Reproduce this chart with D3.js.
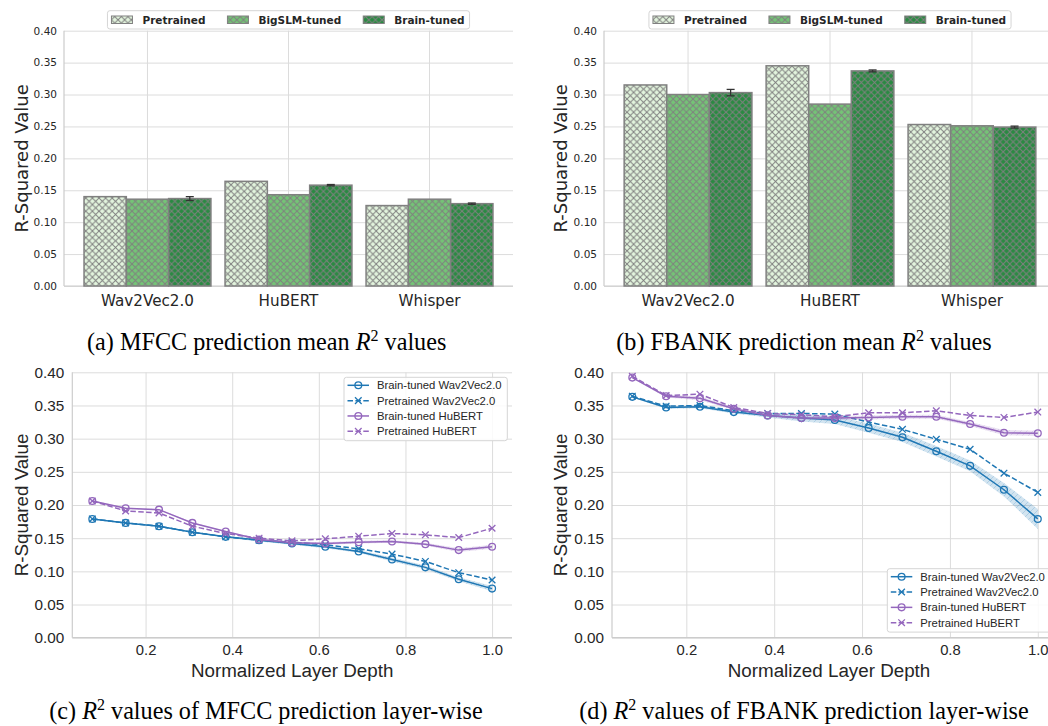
<!DOCTYPE html>
<html>
<head>
<meta charset="utf-8">
<script src="https://cdn.jsdelivr.net/npm/d3@7"></script>
<style>
body { margin: 0; background: #fff; overflow: hidden; }
svg { display: block; }
</style>
</head>
<body>
<svg id="fig" width="1048" height="726"></svg>
<script>
// ---- bar charts (a) and (b) ----
var models = ["Wav2Vec2.0", "HuBERT", "Whisper"];
var variants = ["Pretrained", "BigSLM-tuned", "Brain-tuned"];

var mfccPretrained = [0.140, 0.164, 0.126];
var mfccBigSLM     = [0.136, 0.143, 0.136];
var mfccBrain      = [0.137, 0.158, 0.129];
var mfccBrainErr   = [0.003, 0.001, 0.001];

var fbankPretrained = [0.315, 0.345, 0.253];
var fbankBigSLM     = [0.300, 0.285, 0.251];
var fbankBrain      = [0.303, 0.337, 0.249];
var fbankBrainErr   = [0.005, 0.0015, 0.0015];

var yTicks = [0.00, 0.05, 0.10, 0.15, 0.20, 0.25, 0.30, 0.35, 0.40];
var xTicks = [0.2, 0.4, 0.6, 0.8, 1.0];

// ---- layer-wise line charts (c) and (d) ----
var seriesNames = ["Brain-tuned Wav2Vec2.0", "Pretrained Wav2Vec2.0", "Brain-tuned HuBERT", "Pretrained HuBERT"];
var layerDepth = [0.077, 0.154, 0.231, 0.308, 0.385, 0.462, 0.538, 0.615, 0.692, 0.769, 0.846, 0.923, 1.0];

var mfccBrainW2V    = [0.179, 0.173, 0.168, 0.159, 0.152, 0.147, 0.142, 0.137, 0.130, 0.118, 0.106, 0.088, 0.074];
var mfccBrainW2VCi  = [0.001, 0.001, 0.001, 0.001, 0.001, 0.002, 0.002, 0.002, 0.002, 0.003, 0.003, 0.003, 0.004];
var mfccPreW2V      = [0.179, 0.173, 0.168, 0.159, 0.152, 0.147, 0.144, 0.140, 0.134, 0.126, 0.115, 0.098, 0.087];
var mfccBrainHub    = [0.206, 0.195, 0.193, 0.173, 0.160, 0.148, 0.143, 0.142, 0.144, 0.145, 0.141, 0.132, 0.137];
var mfccBrainHubCi  = [0.001, 0.001, 0.001, 0.001, 0.001, 0.001, 0.002, 0.002, 0.002, 0.002, 0.002, 0.003, 0.003];
var mfccPreHub      = [0.206, 0.191, 0.188, 0.168, 0.157, 0.150, 0.146, 0.149, 0.153, 0.157, 0.155, 0.151, 0.165];

var fbankBrainW2V   = [0.363, 0.347, 0.348, 0.340, 0.335, 0.331, 0.328, 0.316, 0.302, 0.281, 0.259, 0.223, 0.179];
var fbankBrainW2VCi = [0.001, 0.002, 0.002, 0.002, 0.003, 0.005, 0.006, 0.007, 0.007, 0.008, 0.008, 0.010, 0.015];
var fbankPreW2V     = [0.364, 0.349, 0.350, 0.342, 0.338, 0.338, 0.337, 0.325, 0.314, 0.299, 0.284, 0.248, 0.219];
var fbankBrainHub   = [0.392, 0.364, 0.361, 0.345, 0.335, 0.331, 0.331, 0.332, 0.333, 0.333, 0.322, 0.309, 0.308];
var fbankBrainHubCi = [0.001, 0.002, 0.003, 0.002, 0.002, 0.003, 0.003, 0.003, 0.003, 0.003, 0.003, 0.004, 0.004];
var fbankPreHub     = [0.394, 0.365, 0.367, 0.347, 0.338, 0.336, 0.333, 0.339, 0.339, 0.342, 0.335, 0.332, 0.340];

var barColors = ["#e2f4dd", "#74c476", "#2a8a42"];
var blue = "#1f77b4", purple = "#9467bd";
var inkColor = "#262626";
var gridColor = "#dcdcdc";

var svg = d3.select("#fig");
var defs = svg.append("defs");

// cross hatch like matplotlib 'xx'
var hs = 6.6;
defs.append("pattern").attr("id", "xhatch")
    .attr("patternUnits", "userSpaceOnUse").attr("width", hs).attr("height", hs)
  .append("path")
    .attr("d", "M-1,-1L" + (hs + 1) + "," + (hs + 1) + "M" + (hs + 1) + ",-1L-1," + (hs + 1))
    .attr("stroke", "#808080").attr("stroke-width", 1).attr("fill", "none");

// faint diagonal hatch inside the error bands
[["bandBlue", blue], ["bandPurple", purple]].forEach(function(p) {
    defs.append("pattern").attr("id", p[0])
        .attr("patternUnits", "userSpaceOnUse").attr("width", 6).attr("height", 6)
      .append("path")
        .attr("d", "M-1,7L7,-1")
        .attr("stroke", p[1]).attr("stroke-opacity", 0.25).attr("stroke-width", 0.8);
});

function styleAxis(sel, font, size) {
    sel.select(".domain").remove();
    sel.selectAll(".tick line").attr("stroke", gridColor).attr("stroke-width", 1);
    sel.selectAll(".tick text")
        .attr("fill", inkColor)
        .style("font-family", font)
        .style("font-size", size + "px");
}

function barPanel(cfg) {
    var g = svg.append("g");
    var font = "'DejaVu Sans', sans-serif";
    var x = d3.scaleBand().domain(models).range([cfg.left, cfg.right])
        .paddingInner(0.1).paddingOuter(0.142);
    var xs = d3.scaleBand().domain(variants).range([0, x.bandwidth()]);
    var y = d3.scaleLinear().domain([0, 0.4]).range([cfg.bottom, cfg.top]);
    var w = cfg.right - cfg.left, h = cfg.bottom - cfg.top;

    g.append("g").attr("transform", "translate(" + cfg.left + ",0)")
        .call(d3.axisLeft(y).tickValues(yTicks).tickFormat(d3.format(".2f"))
            .tickSize(-w).tickPadding(7))
        .call(styleAxis, font, 10.5);

    g.append("g").attr("transform", "translate(0," + cfg.bottom + ")")
        .call(d3.axisBottom(x).tickSize(-h).tickPadding(9))
        .call(styleAxis, font, 15.2);

    // spines
    g.append("line").attr("x1", cfg.left).attr("x2", cfg.left).attr("y1", cfg.top).attr("y2", cfg.bottom)
        .attr("stroke", "#cccccc").attr("stroke-width", 1.2);
    g.append("line").attr("x1", cfg.left).attr("x2", cfg.right).attr("y1", cfg.bottom).attr("y2", cfg.bottom)
        .attr("stroke", "#cccccc").attr("stroke-width", 1.2);

    var rows = [];
    models.forEach(function(m, i) {
        variants.forEach(function(v, j) {
            rows.push({ model: m, variant: v, j: j, value: cfg.series[j][i], err: j === 2 ? cfg.err[i] : 0 });
        });
    });

    var bars = g.selectAll(".bar").data(rows).enter().append("g");
    bars.append("rect")
        .attr("x", function(d) { return x(d.model) + xs(d.variant); })
        .attr("y", function(d) { return y(d.value); })
        .attr("width", xs.bandwidth())
        .attr("height", function(d) { return y(0) - y(d.value); })
        .attr("fill", function(d) { return barColors[d.j]; });
    bars.append("rect")
        .attr("x", function(d) { return x(d.model) + xs(d.variant); })
        .attr("y", function(d) { return y(d.value); })
        .attr("width", xs.bandwidth())
        .attr("height", function(d) { return y(0) - y(d.value); })
        .attr("fill", "url(#xhatch)")
        .attr("stroke", "#808080").attr("stroke-width", 1.5);

    // error bars on brain-tuned
    var eb = g.selectAll(".err").data(rows.filter(function(d) { return d.err > 0; })).enter().append("g")
        .attr("stroke", "#333333").attr("stroke-width", 1.3);
    eb.append("line")
        .attr("x1", function(d) { return x(d.model) + xs(d.variant) + xs.bandwidth() / 2; })
        .attr("x2", function(d) { return x(d.model) + xs(d.variant) + xs.bandwidth() / 2; })
        .attr("y1", function(d) { return y(d.value - d.err); })
        .attr("y2", function(d) { return y(d.value + d.err); });
    [-1, 1].forEach(function(s) {
        eb.append("line")
            .attr("x1", function(d) { return x(d.model) + xs(d.variant) + xs.bandwidth() / 2 - 4; })
            .attr("x2", function(d) { return x(d.model) + xs(d.variant) + xs.bandwidth() / 2 + 4; })
            .attr("y1", function(d) { return y(d.value + s * d.err); })
            .attr("y2", function(d) { return y(d.value + s * d.err); });
    });

    // y label
    g.append("text")
        .attr("transform", "translate(" + cfg.ylabelX + "," + (cfg.top + h / 2) + ") rotate(-90)")
        .attr("text-anchor", "middle")
        .attr("fill", inkColor)
        .style("font-family", font).style("font-size", "18px")
        .text("R-Squared Value");

    // legend across the top
    var lg = g.append("g");
    var box = lg.append("rect").attr("y", 10.7).attr("height", 18.3).attr("rx", 2.5)
        .attr("fill", "#fff").attr("fill-opacity", 0.85).attr("stroke", "#d5d5d5");
    var cx = 0;
    variants.forEach(function(v, j) {
        lg.append("rect").attr("x", cx).attr("y", 16).attr("width", 21).attr("height", 7.5)
            .attr("fill", barColors[j]);
        lg.append("rect").attr("x", cx).attr("y", 16).attr("width", 21).attr("height", 7.5)
            .attr("fill", "url(#xhatch)").attr("stroke", "#808080").attr("stroke-width", 1);
        var t = lg.append("text").attr("x", cx + 31).attr("y", 23.5)
            .attr("fill", inkColor)
            .style("font-family", font).style("font-size", "10.5px").style("font-weight", "bold")
            .text(v);
        cx += 31 + t.node().getComputedTextLength() + (j < 2 ? 22 : 0);
    });
    var lw = cx + 9;
    var lx = cfg.left + w / 2 - lw / 2;
    box.attr("x", -4).attr("width", lw);
    lg.attr("transform", "translate(" + (lx + 4) + ",0)");
}

function linePanel(cfg) {
    var g = svg.append("g");
    var font = "'Liberation Sans', Arial, sans-serif";
    var x = d3.scaleLinear().domain([0.0308, 1.046]).range([cfg.left, cfg.right]);
    var y = d3.scaleLinear().domain([0, 0.4]).range([cfg.bottom, cfg.top]);
    var w = cfg.right - cfg.left, h = cfg.bottom - cfg.top;

    g.append("g").attr("transform", "translate(" + cfg.left + ",0)")
        .call(d3.axisLeft(y).tickValues(yTicks).tickFormat(d3.format(".2f"))
            .tickSize(-w).tickPadding(8))
        .call(styleAxis, font, 15.3);

    g.append("g").attr("transform", "translate(0," + cfg.bottom + ")")
        .call(d3.axisBottom(x).tickValues(xTicks).tickFormat(d3.format(".1f"))
            .tickSize(-h).tickPadding(7))
        .call(styleAxis, font, 14.8);

    g.append("line").attr("x1", cfg.left).attr("x2", cfg.left).attr("y1", cfg.top).attr("y2", cfg.bottom)
        .attr("stroke", "#cccccc").attr("stroke-width", 1.2);
    g.append("line").attr("x1", cfg.left).attr("x2", cfg.right).attr("y1", cfg.bottom).attr("y2", cfg.bottom)
        .attr("stroke", "#cccccc").attr("stroke-width", 1.2);

    var clipId = "clip" + cfg.id;
    defs.append("clipPath").attr("id", clipId).append("rect")
        .attr("x", cfg.left).attr("y", cfg.top - 6).attr("width", w).attr("height", h + 6);
    var plot = g.append("g").attr("clip-path", "url(#" + clipId + ")");

    var line = d3.line().x(function(d) { return x(d[0]); }).y(function(d) { return y(d[1]); });
    var area = d3.area().x(function(d) { return x(d[0]); })
        .y0(function(d) { return y(d[1] - d[2]); }).y1(function(d) { return y(d[1] + d[2]); });

    cfg.series.forEach(function(s) {
        var pts = layerDepth.map(function(ld, i) { return [ld, s.values[i], s.ci ? s.ci[i] : 0]; });
        if (s.ci) {
            plot.append("path").attr("d", area(pts)).attr("fill", s.color).attr("fill-opacity", 0.2);
            plot.append("path").attr("d", area(pts)).attr("fill", "url(#" + s.hatch + ")");
        }
        plot.append("path").attr("d", line(pts))
            .attr("fill", "none").attr("stroke", s.color).attr("stroke-width", 1.5)
            .attr("stroke-dasharray", s.dashed ? "5.5,2.4" : null);
        drawMarkers(plot, pts.map(function(p) { return [x(p[0]), y(p[1])]; }), s);
    });

    g.append("text")
        .attr("transform", "translate(" + cfg.ylabelX + "," + (cfg.top + h / 2) + ") rotate(-90)")
        .attr("text-anchor", "middle")
        .attr("fill", inkColor)
        .style("font-family", font).style("font-size", "18.8px")
        .text("R-Squared Value");
    g.append("text")
        .attr("x", (cfg.left + Math.min(cfg.right, 1048 + 10)) / 2 + cfg.xlabelShift)
        .attr("y", 676.5)
        .attr("text-anchor", "middle")
        .attr("fill", inkColor)
        .style("font-family", font).style("font-size", "18.8px")
        .text("Normalized Layer Depth");

    // legend
    var lg = g.append("g").attr("transform", "translate(" + cfg.legend.x + "," + cfg.legend.y + ")");
    lg.append("rect").attr("x", 0).attr("y", 0).attr("width", cfg.legend.w).attr("height", 63.4).attr("rx", 2.5)
        .attr("fill", "#fff").attr("fill-opacity", 0.85).attr("stroke", "#d5d5d5");
    cfg.series.forEach(function(s, i) {
        var cy = 8 + i * 15.33;
        lg.append("line").attr("x1", 3.5).attr("x2", 25).attr("y1", cy).attr("y2", cy)
            .attr("stroke", s.color).attr("stroke-width", 1.5)
            .attr("stroke-dasharray", s.dashed ? "5.5,2.4" : null);
        drawMarkers(lg, [[14.3, cy]], s);
        lg.append("text").attr("x", 33).attr("y", cy + 4)
            .attr("fill", inkColor)
            .style("font-family", font).style("font-size", "11.3px")
            .text(s.name);
    });
}

function drawMarkers(parent, pts, s) {
    if (s.marker === "o") {
        parent.selectAll(null).data(pts).enter().append("circle")
            .attr("cx", function(d) { return d[0]; }).attr("cy", function(d) { return d[1]; })
            .attr("r", 3.4).attr("fill", "none").attr("stroke", s.color).attr("stroke-width", 1.3);
    } else {
        var r = 3.3;
        parent.selectAll(null).data(pts).enter().append("path")
            .attr("d", function(d) {
                return "M" + (d[0] - r) + "," + (d[1] - r) + "L" + (d[0] + r) + "," + (d[1] + r) +
                       "M" + (d[0] + r) + "," + (d[1] - r) + "L" + (d[0] - r) + "," + (d[1] + r);
            })
            .attr("stroke", s.color).attr("stroke-width", 1.3);
    }
}

function caption(cx, y, label, rest) {
    var t = svg.append("text").attr("x", cx).attr("y", y).attr("text-anchor", "middle")
        .attr("fill", "#000")
        .style("font-family", "'Liberation Serif', 'Times New Roman', serif").style("font-size", "24.2px");
    t.append("tspan").text(label[0]);
    t.append("tspan").style("font-style", "italic").text("R");
    t.append("tspan").attr("dy", -9).style("font-size", "16px").text("2");
    t.append("tspan").attr("dy", 9).text(rest);
}

barPanel({ left: 64, right: 513, top: 30.7, bottom: 286, ylabelX: 28,
    series: [mfccPretrained, mfccBigSLM, mfccBrain], err: mfccBrainErr });
barPanel({ left: 604, right: 1056, top: 30.7, bottom: 286, ylabelX: 566.5,
    series: [fbankPretrained, fbankBigSLM, fbankBrain], err: fbankBrainErr });

linePanel({ id: "c", left: 72.3, right: 512, top: 372.3, bottom: 637.7, ylabelX: 28.3, xlabelShift: 0,
    legend: { x: 344, y: 377.3, w: 163.3 },
    series: [
        { name: seriesNames[0], values: mfccBrainW2V, ci: mfccBrainW2VCi, color: blue, marker: "o", hatch: "bandBlue" },
        { name: seriesNames[1], values: mfccPreW2V, color: blue, marker: "x", dashed: true },
        { name: seriesNames[2], values: mfccBrainHub, ci: mfccBrainHubCi, color: purple, marker: "o", hatch: "bandPurple" },
        { name: seriesNames[3], values: mfccPreHub, color: purple, marker: "x", dashed: true }
    ] });
linePanel({ id: "d", left: 612, right: 1058, top: 372.3, bottom: 637.7, ylabelX: 566.7, xlabelShift: -6,
    legend: { x: 887.3, y: 568.7, w: 163.3 },
    series: [
        { name: seriesNames[0], values: fbankBrainW2V, ci: fbankBrainW2VCi, color: blue, marker: "o", hatch: "bandBlue" },
        { name: seriesNames[1], values: fbankPreW2V, color: blue, marker: "x", dashed: true },
        { name: seriesNames[2], values: fbankBrainHub, ci: fbankBrainHubCi, color: purple, marker: "o", hatch: "bandPurple" },
        { name: seriesNames[3], values: fbankPreHub, color: purple, marker: "x", dashed: true }
    ] });

caption(266.7, 350, ["(a) MFCC prediction mean "], " values");
caption(804, 350, ["(b) FBANK prediction mean "], " values");
caption(266, 719, ["(c) "], " values of MFCC prediction layer-wise");
caption(804, 719, ["(d) "], " values of FBANK prediction layer-wise");
</script>
</body>
</html>
